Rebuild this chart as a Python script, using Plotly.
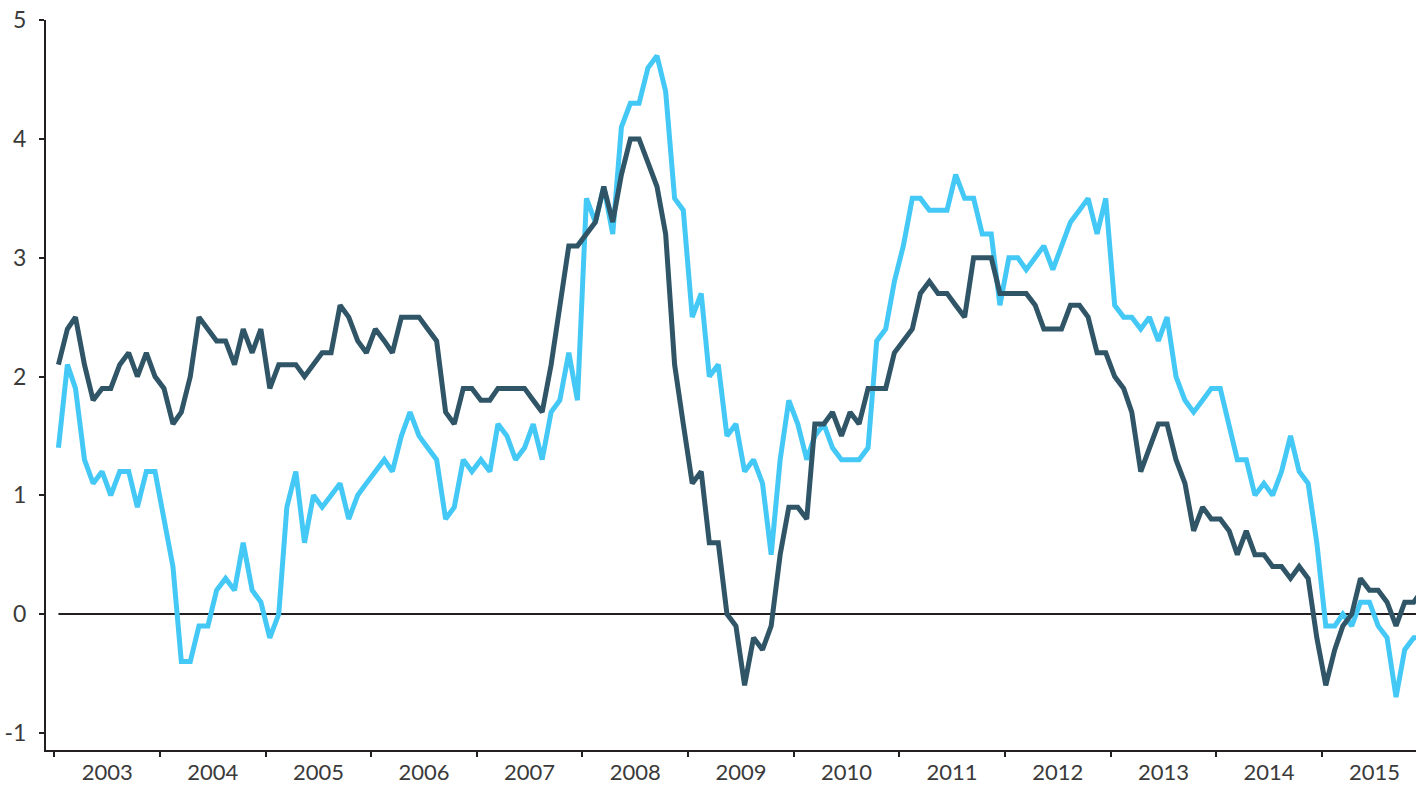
import pandas as pd
import plotly.graph_objects as go

# monthly annual inflation rates, Jan 2003 - Dec 2015 (plotted mid-month)
months = pd.date_range("2003-01-01", periods=156, freq="MS") + pd.Timedelta(days=14)

dark_values = [
    2.1, 2.4, 2.5, 2.1, 1.8, 1.9, 1.9, 2.1, 2.2, 2.0, 2.2, 2.0,
    1.9, 1.6, 1.7, 2.0, 2.5, 2.4, 2.3, 2.3, 2.1, 2.4, 2.2, 2.4,
    1.9, 2.1, 2.1, 2.1, 2.0, 2.1, 2.2, 2.2, 2.6, 2.5, 2.3, 2.2,
    2.4, 2.3, 2.2, 2.5, 2.5, 2.5, 2.4, 2.3, 1.7, 1.6, 1.9, 1.9,
    1.8, 1.8, 1.9, 1.9, 1.9, 1.9, 1.8, 1.7, 2.1, 2.6, 3.1, 3.1,
    3.2, 3.3, 3.6, 3.3, 3.7, 4.0, 4.0, 3.8, 3.6, 3.2, 2.1, 1.6,
    1.1, 1.2, 0.6, 0.6, 0.0, -0.1, -0.6, -0.2, -0.3, -0.1, 0.5, 0.9,
    0.9, 0.8, 1.6, 1.6, 1.7, 1.5, 1.7, 1.6, 1.9, 1.9, 1.9, 2.2,
    2.3, 2.4, 2.7, 2.8, 2.7, 2.7, 2.6, 2.5, 3.0, 3.0, 3.0, 2.7,
    2.7, 2.7, 2.7, 2.6, 2.4, 2.4, 2.4, 2.6, 2.6, 2.5, 2.2, 2.2,
    2.0, 1.9, 1.7, 1.2, 1.4, 1.6, 1.6, 1.3, 1.1, 0.7, 0.9, 0.8,
    0.8, 0.7, 0.5, 0.7, 0.5, 0.5, 0.4, 0.4, 0.3, 0.4, 0.3, -0.2,
    -0.6, -0.3, -0.1, 0.0, 0.3, 0.2, 0.2, 0.1, -0.1, 0.1, 0.1, 0.2,
]

light_values = [
    1.4, 2.1, 1.9, 1.3, 1.1, 1.2, 1.0, 1.2, 1.2, 0.9, 1.2, 1.2,
    0.8, 0.4, -0.4, -0.4, -0.1, -0.1, 0.2, 0.3, 0.2, 0.6, 0.2, 0.1,
    -0.2, 0.0, 0.9, 1.2, 0.6, 1.0, 0.9, 1.0, 1.1, 0.8, 1.0, 1.1,
    1.2, 1.3, 1.2, 1.5, 1.7, 1.5, 1.4, 1.3, 0.8, 0.9, 1.3, 1.2,
    1.3, 1.2, 1.6, 1.5, 1.3, 1.4, 1.6, 1.3, 1.7, 1.8, 2.2, 1.8,
    3.5, 3.3, 3.6, 3.2, 4.1, 4.3, 4.3, 4.6, 4.7, 4.4, 3.5, 3.4,
    2.5, 2.7, 2.0, 2.1, 1.5, 1.6, 1.2, 1.3, 1.1, 0.5, 1.3, 1.8,
    1.6, 1.3, 1.5, 1.6, 1.4, 1.3, 1.3, 1.3, 1.4, 2.3, 2.4, 2.8,
    3.1, 3.5, 3.5, 3.4, 3.4, 3.4, 3.7, 3.5, 3.5, 3.2, 3.2, 2.6,
    3.0, 3.0, 2.9, 3.0, 3.1, 2.9, 3.1, 3.3, 3.4, 3.5, 3.2, 3.5,
    2.6, 2.5, 2.5, 2.4, 2.5, 2.3, 2.5, 2.0, 1.8, 1.7, 1.8, 1.9,
    1.9, 1.6, 1.3, 1.3, 1.0, 1.1, 1.0, 1.2, 1.5, 1.2, 1.1, 0.6,
    -0.1, -0.1, 0.0, -0.1, 0.1, 0.1, -0.1, -0.2, -0.7, -0.3, -0.2, -0.2,
]

baseline = [0] * len(months)

y_ticks = [-1, 0, 1, 2, 3, 4, 5]

AXIS = "#231f20"
DARK = "#2f5567"
LIGHT = "#44c8f5"
FONT = "Lato, 'Noto Sans', sans-serif"

fig = go.Figure()
fig.add_trace(go.Scatter(x=months, y=baseline, mode="lines",
                         line=dict(color=AXIS, width=2), hoverinfo="skip", showlegend=False))
fig.add_trace(go.Scatter(x=months, y=light_values, mode="lines",
                         line=dict(color=LIGHT, width=5), showlegend=False))
fig.add_trace(go.Scatter(x=months, y=dark_values, mode="lines",
                         line=dict(color=DARK, width=5), showlegend=False))

fig.update_layout(
    width=1416, height=787,
    margin=dict(l=46, r=0, t=20, b=37),
    paper_bgcolor="white", plot_bgcolor="white",
    font=dict(family=FONT, size=23, color="#3a3a3a"),
    showlegend=False,
)
fig.update_xaxes(
    type="date",
    range=["2002-12-03", "2015-11-23"],
    tick0="2003-01-01", dtick="M12", tickformat="%Y",
    ticklabelmode="period",
    ticks="outside", ticklen=5, tickwidth=2, tickcolor=AXIS,
    ticklabelstandoff=-3, tickfont=dict(size=22),
    showline=True, linecolor=AXIS, linewidth=2,
    showgrid=False, zeroline=False, automargin=False,
)
fig.update_yaxes(
    range=[-1.145, 5.002],
    tickmode="array", tickvals=y_ticks, ticktext=[str(v) for v in y_ticks],
    ticks="outside", ticklen=5, tickwidth=2, tickcolor=AXIS,
    ticklabelstandoff=8,
    showline=True, linecolor=AXIS, linewidth=2,
    showgrid=False, zeroline=False, automargin=False,
)

fig.write_html("out.html", config={"displayModeBar": False},
               post_script="document.body.style.margin='0';document.body.style.overflow='hidden';")
